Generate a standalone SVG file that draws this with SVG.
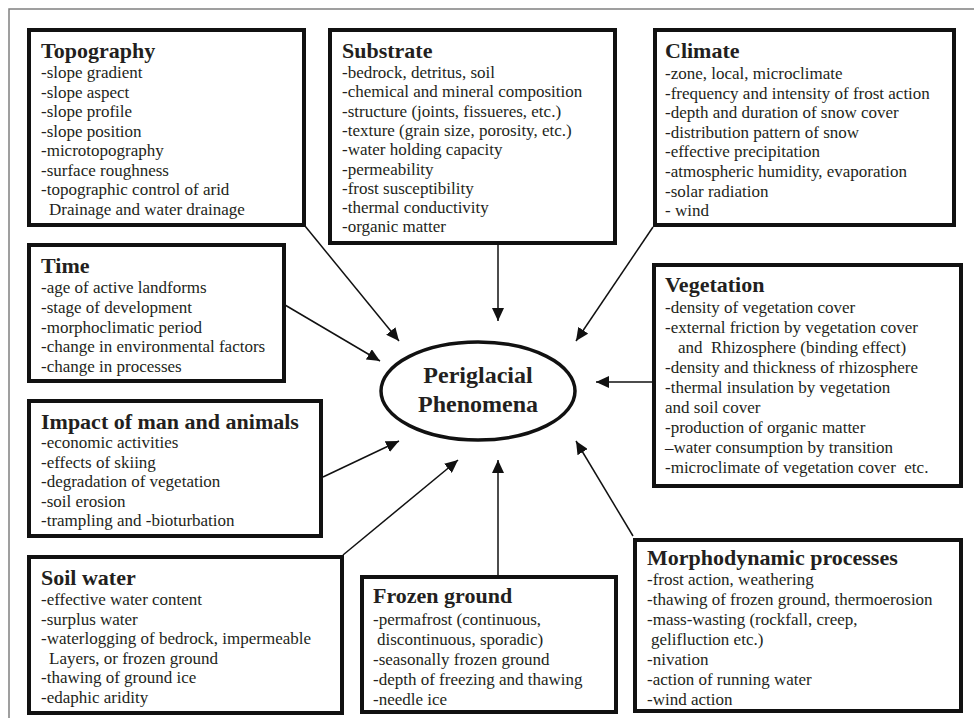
<svg xmlns="http://www.w3.org/2000/svg" width="974" height="727" viewBox="0 0 974 727">
<style>
.box{fill:#fff;stroke:#111;stroke-width:4}
.t{font-family:"Liberation Serif","Times New Roman",serif;font-size:22px;font-weight:bold;fill:#231f20}
.b{font-family:"Liberation Serif","Times New Roman",serif;font-size:17px;fill:#231f20}
.c{font-family:"Liberation Serif","Times New Roman",serif;font-size:24px;font-weight:bold;fill:#231f20;text-anchor:middle}
.con{stroke:#111;stroke-width:1.5;fill:none;marker-end:url(#ah)}
</style>
<defs>
<marker id="ah" markerUnits="userSpaceOnUse" markerWidth="14" markerHeight="12" refX="13" refY="6" orient="auto">
<path d="M0,0 L13,6 L0,12 z" fill="#111"/>
</marker>
</defs>
<rect width="974" height="727" fill="#fff"/>
<path d="M9,718 L9,9 L974,9" fill="none" stroke="#808080" stroke-width="1.5"/>

<g id="connectors">
<line class="con" x1="305" y1="226" x2="399" y2="341"/>
<line class="con" x1="498" y1="245" x2="498" y2="321"/>
<line class="con" x1="653" y1="227" x2="576" y2="341"/>
<line class="con" x1="285" y1="305" x2="380" y2="361"/>
<line class="con" x1="652" y1="382" x2="596" y2="382"/>
<line class="con" x1="323" y1="477" x2="399" y2="441"/>
<line class="con" x1="343" y1="555" x2="458" y2="460"/>
<line class="con" x1="498" y1="575" x2="498" y2="460"/>
<line class="con" x1="633" y1="536" x2="576" y2="441"/>
</g>

<g id="topography">
<rect class="box" x="29" y="30" width="275" height="195"/>
<text class="t" x="41" y="58">Topography</text>
<text class="b" x="41" y="78">-slope gradient</text>
<text class="b" x="41" y="97.5">-slope aspect</text>
<text class="b" x="41" y="117">-slope profile</text>
<text class="b" x="41" y="136.5">-slope position</text>
<text class="b" x="41" y="156">-microtopography</text>
<text class="b" x="41" y="175.5">-surface roughness</text>
<text class="b" x="41" y="195">-topographic control of arid</text>
<text class="b" x="49" y="214.5">Drainage and water drainage</text>
</g>

<g id="substrate">
<rect class="box" x="330" y="30" width="285" height="213"/>
<text class="t" x="342" y="58">Substrate</text>
<text class="b" x="342" y="78">-bedrock, detritus, soil</text>
<text class="b" x="342" y="97.3">-chemical and mineral composition</text>
<text class="b" x="342" y="116.6">-structure (joints, fissueres, etc.)</text>
<text class="b" x="342" y="135.9">-texture (grain size, porosity, etc.)</text>
<text class="b" x="342" y="155.2">-water holding capacity</text>
<text class="b" x="342" y="174.5">-permeability</text>
<text class="b" x="342" y="193.8">-frost susceptibility</text>
<text class="b" x="342" y="213.1">-thermal conductivity</text>
<text class="b" x="342" y="232.4">-organic matter</text>
</g>

<g id="climate">
<rect class="box" x="655" y="30" width="299" height="195"/>
<text class="t" x="665" y="58">Climate</text>
<text class="b" x="665" y="79">-zone, local, microclimate</text>
<text class="b" x="665" y="98.6">-frequency and intensity of frost action</text>
<text class="b" x="665" y="118.2">-depth and duration of snow cover</text>
<text class="b" x="665" y="137.8">-distribution pattern of snow</text>
<text class="b" x="665" y="157.4">-effective precipitation</text>
<text class="b" x="665" y="177">-atmospheric humidity, evaporation</text>
<text class="b" x="665" y="196.6">-solar radiation</text>
<text class="b" x="665" y="216.2">- wind</text>
</g>

<g id="time">
<rect class="box" x="29" y="245" width="255" height="136"/>
<text class="t" x="41" y="273">Time</text>
<text class="b" x="41" y="293">-age of active landforms</text>
<text class="b" x="41" y="312.75">-stage of development</text>
<text class="b" x="41" y="332.5">-morphoclimatic period</text>
<text class="b" x="41" y="352.25">-change in environmental factors</text>
<text class="b" x="41" y="372">-change in processes</text>
</g>

<g id="vegetation">
<rect class="box" x="654" y="265" width="307" height="221"/>
<text class="t" x="665" y="292">Vegetation</text>
<text class="b" x="665" y="313">-density of vegetation cover</text>
<text class="b" x="665" y="333">-external friction by vegetation cover</text>
<text class="b" x="678" y="353">and&#160; Rhizosphere (binding effect)</text>
<text class="b" x="665" y="373">-density and thickness of rhizosphere</text>
<text class="b" x="665" y="393">-thermal insulation by vegetation</text>
<text class="b" x="665" y="413">and soil cover</text>
<text class="b" x="665" y="433">-production of organic matter</text>
<text class="b" x="665" y="453">–water consumption by transition</text>
<text class="b" x="665" y="473">-microclimate of vegetation cover&#160; etc.</text>
</g>

<g id="center">
<ellipse cx="478" cy="391" rx="97" ry="49" fill="#fff" stroke="#111" stroke-width="3.5"/>
<text class="c" x="478" y="383">Periglacial</text>
<text class="c" x="478" y="412">Phenomena</text>
</g>

<g id="impact">
<rect class="box" x="29" y="401" width="292" height="135"/>
<text class="t" x="41" y="429">Impact of man and animals</text>
<text class="b" x="41" y="448">-economic activities</text>
<text class="b" x="41" y="467.5">-effects of skiing</text>
<text class="b" x="41" y="487">-degradation of vegetation</text>
<text class="b" x="41" y="506.5">-soil erosion</text>
<text class="b" x="41" y="526">-trampling and -bioturbation</text>
</g>

<g id="soil-water">
<rect class="box" x="29" y="557" width="313" height="156"/>
<text class="t" x="41" y="585">Soil water</text>
<text class="b" x="41" y="605">-effective water content</text>
<text class="b" x="41" y="624.6">-surplus water</text>
<text class="b" x="41" y="644.2">-waterlogging of bedrock, impermeable</text>
<text class="b" x="49" y="663.8">Layers, or frozen ground</text>
<text class="b" x="41" y="683.4">-thawing of ground ice</text>
<text class="b" x="41" y="703">-edaphic aridity</text>
</g>

<g id="frozen-ground">
<rect class="box" x="362" y="577" width="254" height="135"/>
<text class="t" x="373" y="603">Frozen ground</text>
<text class="b" x="373" y="625">-permafrost (continuous,</text>
<text class="b" x="377" y="645">discontinuous, sporadic)</text>
<text class="b" x="373" y="665">-seasonally frozen ground</text>
<text class="b" x="373" y="685">-depth of freezing and thawing</text>
<text class="b" x="373" y="705">-needle ice</text>
</g>

<g id="morphodynamic">
<rect class="box" x="635" y="540" width="326" height="171"/>
<text class="t" x="647" y="565">Morphodynamic processes</text>
<text class="b" x="647" y="585">-frost action, weathering</text>
<text class="b" x="647" y="605">-thawing of frozen ground, thermoerosion</text>
<text class="b" x="647" y="625">-mass-wasting (rockfall, creep,</text>
<text class="b" x="651" y="645">gelifluction etc.)</text>
<text class="b" x="647" y="665">-nivation</text>
<text class="b" x="647" y="685">-action of running water</text>
<text class="b" x="647" y="705">-wind action</text>
</g>
</svg>
